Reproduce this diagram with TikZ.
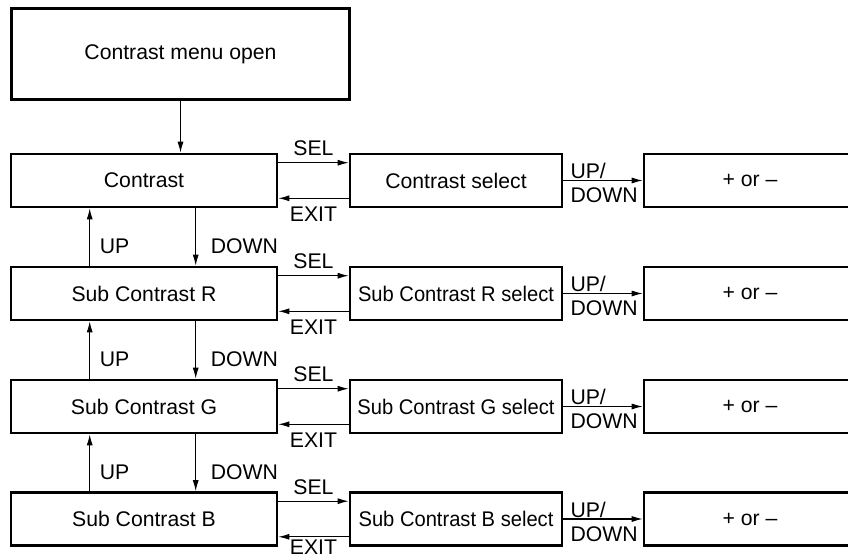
\documentclass[tikz,border=0pt]{standalone}
\usepackage{fontspec}
\setmainfont{Liberation Sans}
\usetikzlibrary{arrows.meta}
\newcommand{\narrowtext}[1]{\scalebox{0.95}[1]{#1}}
\begin{document}
\begin{tikzpicture}[x=1pt,y=-1pt,every node/.style={font=\fontsize{21.2}{25}\selectfont}]
    \tikzstyle{box}=[draw=black,line width=2.6pt,minimum height=53pt,inner sep=0pt]
    \tikzstyle{menu}=[box,minimum width=266pt]
    \tikzstyle{sel}=[box,minimum width=212pt]
    \tikzstyle{val}=[box,minimum width=212pt]
    \tikzstyle{arr}=[line width=1.1pt,-{Latex[length=11pt,width=6pt]}]
    \tikzstyle{lbl}=[inner sep=0pt,anchor=base west]

    \useasboundingbox (0,0) rectangle (848,559);

    \node[box,minimum width=338pt,minimum height=91pt] at (180.5,54) (top) {Contrast menu open};

    \node[menu] at (144,180.5) (r1) {Contrast};
    \node[sel] at (456,180.5) (s1) {Contrast select};
    \node[val] at (750,180.5) (p1) {+ or –};

    \node[menu] at (144,293.5) (r2) {Sub Contrast R};
    \node[sel] at (456,293.5) (s2) {\narrowtext{Sub Contrast R select}};
    \node[val] at (750,293.5) (p2) {+ or –};

    \node[menu] at (144,406.5) (r3) {Sub Contrast G};
    \node[sel] at (456,406.5) (s3) {\narrowtext{Sub Contrast G select}};
    \node[val] at (750,406.5) (p3) {+ or –};

    \node[menu] at (144,519) (r4) {Sub Contrast B};
    \node[sel] at (456,519) (s4) {\narrowtext{Sub Contrast B select}};
    \node[val] at (750,519) (p4) {+ or –};

    \draw[arr] (top.south) -- (top.south |- r1.north);

    % SEL / EXIT between menu and select
    \draw[arr] ([yshift=-10pt]r1.north east) -- node[above=6pt,inner sep=0pt] {SEL} ([yshift=-10pt]s1.north west);
    \draw[arr] ([yshift=10pt]s1.south west) -- node[below=8pt,inner sep=0pt] {EXIT} ([yshift=10pt]r1.south east);
    \draw[arr] ([yshift=-10pt]r2.north east) -- node[above=6pt,inner sep=0pt] {SEL} ([yshift=-10pt]s2.north west);
    \draw[arr] ([yshift=10pt]s2.south west) -- node[below=8pt,inner sep=0pt] {EXIT} ([yshift=10pt]r2.south east);
    \draw[arr] ([yshift=-10pt]r3.north east) -- node[above=6pt,inner sep=0pt] {SEL} ([yshift=-10pt]s3.north west);
    \draw[arr] ([yshift=10pt]s3.south west) -- node[below=8pt,inner sep=0pt] {EXIT} ([yshift=10pt]r3.south east);
    \draw[arr] ([yshift=-10pt]r4.north east) -- node[above=6pt,inner sep=0pt] {SEL} ([yshift=-10pt]s4.north west);
    \draw[arr] ([yshift=10pt]s4.south west) -- node[below=3pt,inner sep=0pt] {EXIT} ([yshift=10pt]r4.south east);

    % UP/DOWN to the value boxes
    \draw[arr] (s1) -- (p1);
    \node[lbl] at ([xshift=7pt,yshift=2pt]s1.east) (ud1) {UP/};
    \node[lbl] at ([xshift=7pt,yshift=-22pt]s1.east) (dd1) {DOWN};
    \draw[arr] (s2) -- (p2);
    \node[lbl] at ([xshift=7pt,yshift=2pt]s2.east) (ud2) {UP/};
    \node[lbl] at ([xshift=7pt,yshift=-22pt]s2.east) (dd2) {DOWN};
    \draw[arr] (s3) -- (p3);
    \node[lbl] at ([xshift=7pt,yshift=2pt]s3.east) (ud3) {UP/};
    \node[lbl] at ([xshift=7pt,yshift=-22pt]s3.east) (dd3) {DOWN};
    \draw[arr] (s4) -- (p4);
    \node[lbl] at ([xshift=7pt,yshift=2pt]s4.east) (ud4) {UP/};
    \node[lbl] at ([xshift=7pt,yshift=-22pt]s4.east) (dd4) {DOWN};

    % UP / DOWN between the menu rows
    \draw[arr] ([xshift=80pt]r2.north west) -- ([xshift=80pt]r1.south west);
    \draw[arr] ([xshift=186pt]r1.south west) -- ([xshift=186pt]r2.north west);
    \node[lbl] at ([xshift=90pt,yshift=12pt]r2.north west) (up1) {UP};
    \node[lbl] at ([xshift=201pt,yshift=12pt]r2.north west) (dn1) {DOWN};

    \draw[arr] ([xshift=80pt]r3.north west) -- ([xshift=80pt]r2.south west);
    \draw[arr] ([xshift=186pt]r2.south west) -- ([xshift=186pt]r3.north west);
    \node[lbl] at ([xshift=90pt,yshift=12pt]r3.north west) (up2) {UP};
    \node[lbl] at ([xshift=201pt,yshift=12pt]r3.north west) (dn2) {DOWN};

    \draw[arr] ([xshift=80pt]r4.north west) -- ([xshift=80pt]r3.south west);
    \draw[arr] ([xshift=186pt]r3.south west) -- ([xshift=186pt]r4.north west);
    \node[lbl] at ([xshift=90pt,yshift=12pt]r4.north west) (up3) {UP};
    \node[lbl] at ([xshift=201pt,yshift=12pt]r4.north west) (dn3) {DOWN};
\end{tikzpicture}
\end{document}
